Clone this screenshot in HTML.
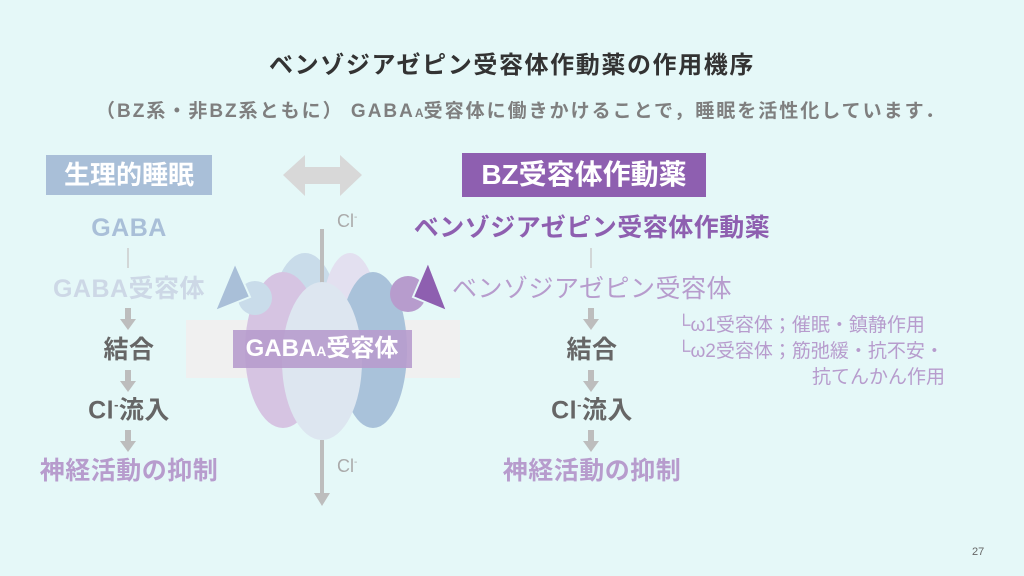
<!DOCTYPE html><html><head><meta charset="utf-8"><style>
body{margin:0;width:1024px;height:576px;overflow:hidden;background:#e5f8f8;font-family:"Liberation Sans","Noto Sans CJK JP",sans-serif;position:relative}
.t{position:absolute;white-space:nowrap;font-weight:bold;line-height:1}
.c{transform:translateX(-50%)}
.m{font-size:25px;letter-spacing:0.5px}
</style></head><body>
<div class="t c" style="left:512px;top:54px;font-size:24px;letter-spacing:1.6px;color:#333">ベンゾジアゼピン受容体作動薬の作用機序</div>
<div class="t" style="left:96px;top:102px;font-size:19px;letter-spacing:2px;color:#7f7f7f">（BZ系・非BZ系ともに） GABA<span style="font-size:12px;letter-spacing:0">A</span>受容体に働きかけることで，睡眠を活性化しています．</div>
<div class="t" style="left:46px;top:155px;width:166px;height:40px;background:#a9bfd8;color:#fff;font-size:26px;line-height:40px;text-align:center">生理的睡眠</div>
<div class="t" style="left:462px;top:153px;width:244px;height:44px;background:#8e5fb0;color:#fff;font-size:28px;line-height:44px;text-align:center">BZ受容体作動薬</div>
<svg style="position:absolute;left:0;top:0" width="1024" height="576">
<polygon points="283,175 305,155 305,167 340,167 340,155 362,175 340,196 340,184 305,184 305,196" fill="#d8d8d8"/>
<rect x="186" y="320" width="274" height="58" fill="#f0f0f0"/>
<ellipse cx="305" cy="318" rx="33" ry="65" fill="#c9dcea"/>
<ellipse cx="350" cy="318" rx="28" ry="65" fill="#e3e0f0"/>
<line x1="322" y1="229" x2="322" y2="290" stroke="#bdbdbd" stroke-width="4"/>
<ellipse cx="283" cy="350" rx="38" ry="78" fill="#d6c4e2"/>
<ellipse cx="373" cy="350" rx="34" ry="78" fill="#a9c2da"/>
<ellipse cx="322" cy="361" rx="40" ry="79" fill="#dde6f0"/>
<line x1="322" y1="440" x2="322" y2="495" stroke="#bdbdbd" stroke-width="4"/>
<polygon points="314,493 330,493 322,506" fill="#bdbdbd"/>
<circle cx="255" cy="298" r="17" fill="#c9dcea"/>
<polygon points="235,263 215,311 250,297" fill="#a9bfd8" stroke="#e5f8f8" stroke-width="2"/>
<circle cx="408" cy="294" r="18" fill="#b79ccd"/>
<polygon points="428,262 413,297 447,311" fill="#8e5fb0" stroke="#e5f8f8" stroke-width="2"/>
<rect x="233" y="330" width="179" height="38" fill="#b79ccd" opacity="0.9"/>
<line x1="128" y1="248" x2="128" y2="268" stroke="#ccc" stroke-width="1.5"/>
<line x1="591" y1="248" x2="591" y2="268" stroke="#ccc" stroke-width="1.5"/>
<g fill="#bdbdbd">
<rect x="125" y="308" width="6" height="12"/><polygon points="120,319 136,319 128,330"/>
<rect x="125" y="370" width="6" height="12"/><polygon points="120,381 136,381 128,392"/>
<rect x="125" y="430" width="6" height="12"/><polygon points="120,441 136,441 128,452"/>
<rect x="588" y="308" width="6" height="12"/><polygon points="583,319 599,319 591,330"/>
<rect x="588" y="370" width="6" height="12"/><polygon points="583,381 599,381 591,392"/>
<rect x="588" y="430" width="6" height="12"/><polygon points="583,441 599,441 591,452"/>
</g>
</svg>
<div class="t c" style="left:322px;top:337px;font-size:24px;color:#fff">GABA<span style="font-size:14px">A</span>受容体</div>
<div class="t" style="left:337px;top:212px;font-size:18px;color:#aaa;font-weight:normal">Cl<sup style="font-size:10px">-</sup></div>
<div class="t" style="left:337px;top:457px;font-size:18px;color:#aaa;font-weight:normal">Cl<sup style="font-size:10px">-</sup></div>
<div class="t c m" style="left:129px;top:216px;color:#a9bfd8">GABA</div>
<div class="t c m" style="left:129px;top:277px;color:#cdd8e6">GABA受容体</div>
<div class="t c m" style="left:129px;top:338px;color:#666">結合</div>
<div class="t c m" style="left:129px;top:398px;color:#666">Cl<sup style="font-size:13px">-</sup>流入</div>
<div class="t c m" style="left:129px;top:459px;color:#b79ccd">神経活動の抑制</div>
<div class="t c m" style="left:592px;top:216px;color:#8e5fb0">ベンゾジアゼピン受容体作動薬</div>
<div class="t c m" style="left:592px;top:277px;color:#b79ccd;font-weight:normal">ベンゾジアゼピン受容体</div>
<div class="t c m" style="left:592px;top:338px;color:#666">結合</div>
<div class="t c m" style="left:592px;top:398px;color:#666">Cl<sup style="font-size:13px">-</sup>流入</div>
<div class="t c m" style="left:592px;top:459px;color:#b79ccd">神経活動の抑制</div>
<div class="t" style="left:677px;top:316px;font-size:19px;color:#b79ccd;font-weight:normal">└ω1受容体；催眠・鎮静作用</div>
<div class="t" style="left:677px;top:342px;font-size:19px;color:#b79ccd;font-weight:normal">└ω2受容体；筋弛緩・抗不安・</div>
<div class="t" style="left:812px;top:368px;font-size:19px;color:#b79ccd;font-weight:normal">抗てんかん作用</div>
<div class="t" style="left:972px;top:547px;font-size:11px;color:#666;font-weight:normal">27</div>
</body></html>
